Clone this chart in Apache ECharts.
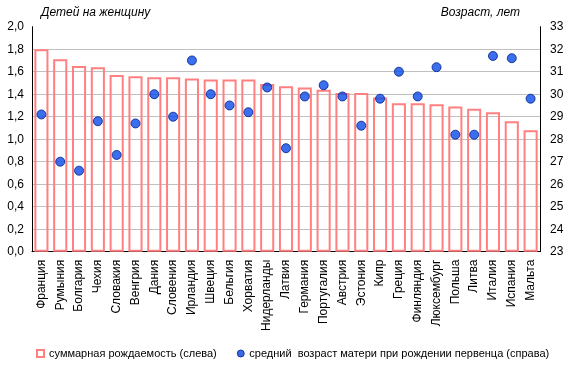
<!DOCTYPE html>
<html><head><meta charset="utf-8">
<script src="https://cdn.jsdelivr.net/npm/echarts@6/dist/echarts.min.js"></script>
<style>html,body{margin:0;padding:0;background:#fff}#c{width:572px;height:372px}</style>
</head><body><div id="c"></div>
<script>
const categories = ['Франция','Румыния','Болгария','Чехия','Словакия','Венгрия','Дания','Словения','Ирландия','Швеция','Бельгия','Хорватия','Нидерланды','Латвия','Германия','Португалия','Австрия','Эстония','Кипр','Греция','Финляндия','Люксембург','Польша','Литва','Италия','Испания','Мальта'];
const fertility = [1.80,1.71,1.65,1.64,1.57,1.56,1.55,1.55,1.54,1.53,1.53,1.53,1.49,1.47,1.46,1.44,1.41,1.41,1.37,1.32,1.32,1.31,1.29,1.27,1.24,1.16,1.08];
const motherAge = [29.1,27.0,26.6,28.8,27.3,28.7,30.0,29.0,31.5,30.0,29.5,29.2,30.3,27.6,29.9,30.4,29.9,28.6,29.8,31.0,29.9,31.2,28.2,28.2,31.7,31.6,29.8];
const seriesNames = ['суммарная рождаемость (слева)', 'средний  возраст матери при рождении первенца (справа)'];
const leftTitle = 'Детей на женщину';
const rightTitle = 'Возраст, лет';

const FONT = '"Liberation Sans", Arial, sans-serif';
const chart = echarts.init(document.getElementById('c'), null, {renderer:'canvas'});
chart.setOption({
  animation: false,
  textStyle: {fontFamily: FONT},
  grid: {left: 32, right: 32, top: 26.7, bottom: 120.3, containLabel: false},
  legend: {
    left: 36, top: 348, width: 536, padding: 0, itemGap: 20, itemWidth: 7, itemHeight: 7,
    textStyle: {fontFamily: FONT, fontSize: 11, color: '#000'},
    data: [
      {name: seriesNames[0], icon: 'rect', itemStyle: {color: '#fff', borderColor: '#FF8080', borderWidth: 2}},
      {name: seriesNames[1], icon: 'circle', itemStyle: {color: '#0A44E0', borderColor: '#00208A', borderWidth: 1}}
    ]
  },
  graphic: [
    {type: 'text', left: 41, top: 7, style: {text: leftTitle, font: 'italic 12px ' + FONT, fill: '#000'}},
    {type: 'text', right: 52, top: 7, style: {text: rightTitle, font: 'italic 12px ' + FONT, fill: '#000'}}
  ],
  xAxis: {
    type: 'category', data: categories,
    axisLine: {lineStyle: {color: '#000', width: 1}},
    axisTick: {show: false},
    axisLabel: {rotate: 90, interval: 0, fontSize: 12, color: '#000', margin: 8, fontFamily: FONT}
  },
  yAxis: [
    {type: 'value', min: 0, max: 2, interval: 0.2, position: 'left',
     axisLine: {show: true, lineStyle: {color: '#000'}}, axisTick: {show: false},
     axisLabel: {fontSize: 12, color: '#000', margin: 8, fontFamily: FONT,
       formatter: v => v.toFixed(1).replace('.', ',')},
     splitLine: {show: true, showMaxLine: false, showMinLine: false, lineStyle: {color: '#C0C0C0', width: 1}}},
    {type: 'value', min: 23, max: 33, interval: 1, position: 'right',
     axisLine: {show: true, lineStyle: {color: '#000'}}, axisTick: {show: false},
     axisLabel: {fontSize: 12, color: '#000', margin: 10, fontFamily: FONT},
     splitLine: {show: false}}
  ],
  series: [
    {name: seriesNames[0], type: 'bar', yAxisIndex: 0, data: fertility, barCategoryGap: '25%',
     itemStyle: {color: 'rgba(255,255,255,0)', borderColor: '#FF8080', borderWidth: 2}},
    {name: seriesNames[1], type: 'scatter', yAxisIndex: 1, data: motherAge, symbol: 'circle', symbolSize: 9,
     itemStyle: {color: '#0A4BE8', borderColor: '#00208A', borderWidth: 1}}
  ]
});
</script></body></html>
